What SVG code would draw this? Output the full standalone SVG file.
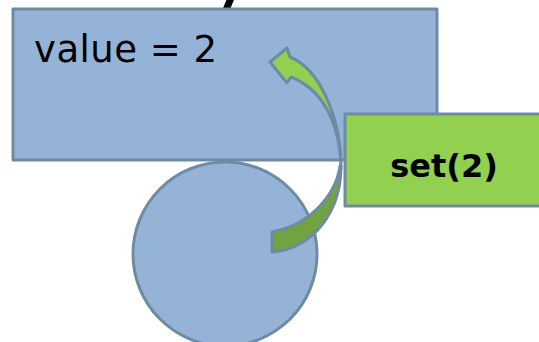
<svg xmlns="http://www.w3.org/2000/svg" width="539" height="342" viewBox="0 0 539 342">
  <style>
    .shape { stroke: #6E8BA3; stroke-width: 3; stroke-linejoin: round; }
    .blue { fill: #95B3D7; }
    .green { fill: #92D050; }
    .dark { fill: #71A43E; }
    .lbl { font-family: "DejaVu Sans", "Liberation Sans", sans-serif; fill: #000; }
  </style>
  <rect width="539" height="342" fill="#FFFFFF"/>
  <g id="connectors">
    <line x1="231" y1="-2" x2="226" y2="10" stroke="#000" stroke-width="7"/>
  </g>
  <g id="object">
    <rect class="shape blue" x="13" y="9" width="424" height="151"/>
    <text class="lbl" x="34" y="62" font-size="37" textLength="183" lengthAdjust="spacing">value = 2</text>
  </g>
  <g id="circle">
    <circle class="shape blue" cx="225" cy="254" r="92"/>
  </g>
  <g id="set-box">
    <rect class="shape green" x="345" y="114" width="200" height="92"/>
    <text class="lbl" x="444" y="177" font-size="32" font-weight="bold" text-anchor="middle">set(2)</text>
  </g>
  <g id="curved-arrow">
    <path class="shape dark" d="M 340,166 C 336,195 310,225 272,232 L 272,252 C 315,248 341,210 341,166 Z"/>
    <path class="shape green" d="M 290,57 C 318,68 341,115 341,168 C 340,125 324,90 291,77 L 287,83 L 270,62 L 287,48 Z"/>
  </g>
</svg>
